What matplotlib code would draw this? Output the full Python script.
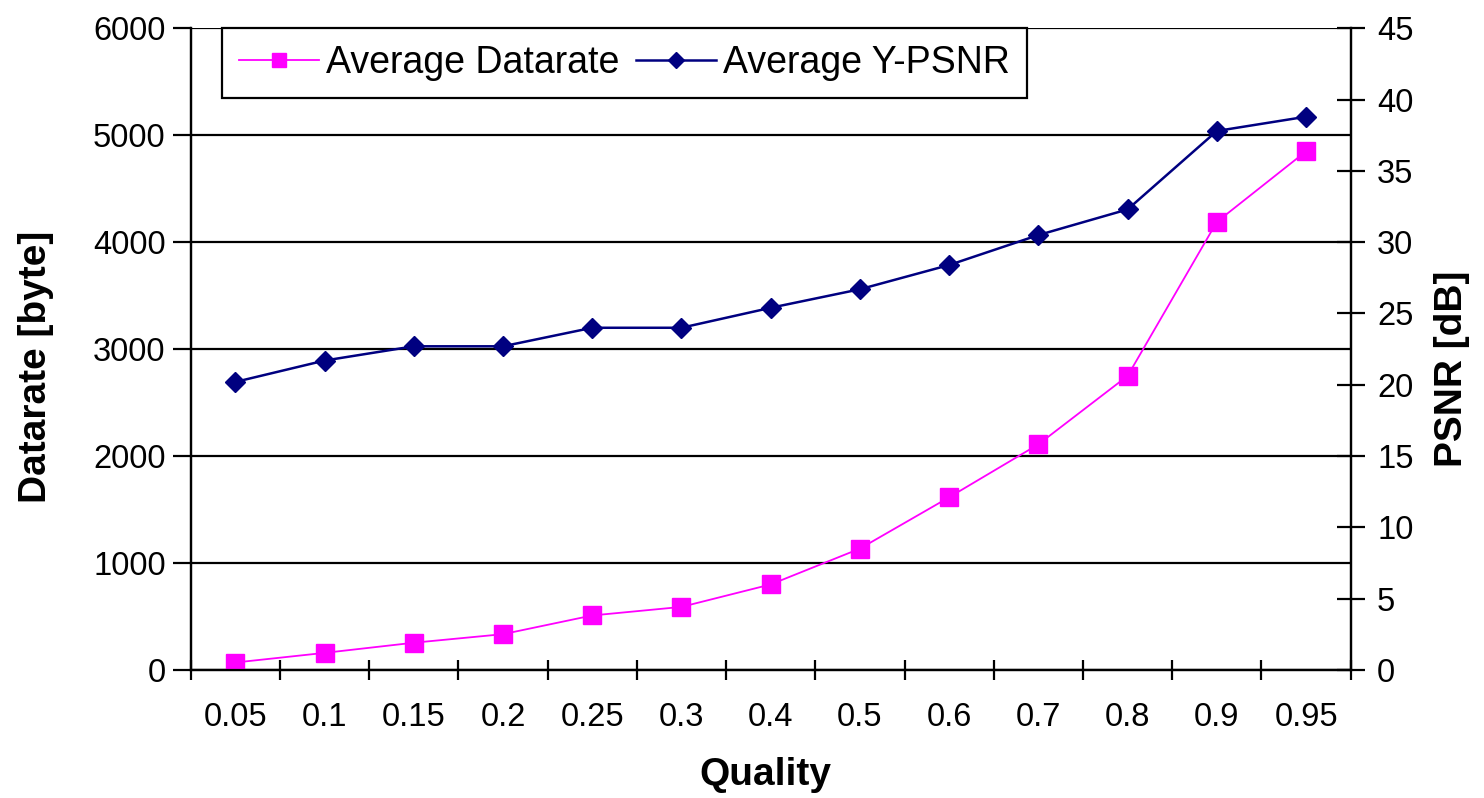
import matplotlib
matplotlib.use("Agg")
import matplotlib.pyplot as plt
from matplotlib import font_manager
import numpy as np

plt.rcParams['font.family'] = ['Liberation Sans', 'DejaVu Sans']

# fonte estreita para os numeros dos eixos, se existir
fontes = {f.name for f in font_manager.fontManager.ttflist}
if 'Liberation Sans Narrow' in fontes:
    tick_font, tick_size = 'Liberation Sans Narrow', 26
else:
    tick_font, tick_size = 'Liberation Sans', 23.5

# valores
quality = ['0.05', '0.1', '0.15', '0.2', '0.25', '0.3', '0.4',
           '0.5', '0.6', '0.7', '0.8', '0.9', '0.95']
datarate = [70, 160, 255, 335, 510, 590, 800, 1135, 1615, 2110, 2750, 4190, 4850]
psnr = [20.2, 21.7, 22.7, 22.7, 24.0, 24.0, 25.4, 26.7, 28.4, 30.5, 32.3, 37.8, 38.8]

W, H = 1484, 798
fig = plt.figure(figsize=(W / 100, H / 100), dpi=100)
# area do grafico em pixels: x 190.7..1350.7, y 28.3..670
x0, x1, ytop, ybot = 190.7, 1350.7, 28.3, 670.0
ax = fig.add_axes([x0 / W, 1 - ybot / H, (x1 - x0) / W, (ybot - ytop) / H])
ax2 = ax.twinx()

x = np.arange(len(quality))

l1, = ax.plot(x, datarate, color='#FF00FF', lw=1.3, marker='s', ms=13.5,
              mfc='#FF00FF', mec='#FF00FF', label='Average Datarate', zorder=3)
l2, = ax2.plot(x, psnr, color='#000080', lw=1.8, marker='D', ms=10.5,
               mfc='#000080', mec='#000080', label='Average Y-PSNR', zorder=3)

ax.set_xlim(-0.5, len(quality) - 0.5)
ax.set_ylim(0, 6000)
ax2.set_ylim(0, 45)

# eixo x: ticks entre as categorias, rotulos no centro
ax.set_xticks(np.arange(-0.5, len(quality), 1.0))
ax.set_xticklabels([])
ax.set_xticks(x, minor=True)
ax.set_xticklabels(quality, minor=True, fontsize=tick_size, family=[tick_font, 'DejaVu Sans'])
ax.tick_params(axis='x', which='major', direction='inout', length=15, width=1.6, color='black')
ax.tick_params(axis='x', which='minor', length=0, pad=23)

ax.set_yticks(np.arange(0, 6001, 1000))
ax.tick_params(axis='y', direction='out', length=13, width=1.6, labelsize=tick_size, pad=5)
ax2.set_yticks(np.arange(0, 46, 5))
ax2.tick_params(axis='y', direction='inout', length=20, width=1.6, labelsize=tick_size, pad=9)
for lab in ax.get_yticklabels() + ax2.get_yticklabels():
    lab.set_family([tick_font, 'DejaVu Sans'])

ax.yaxis.grid(True, color='black', lw=1.6)
ax.set_axisbelow(True)

for a in (ax, ax2):
    a.spines['top'].set_visible(False)
    for s in ('left', 'right', 'bottom'):
        a.spines[s].set_linewidth(1.6)
        a.spines[s].set_color('black')

ax.set_xlabel('Quality', fontsize=28, fontweight='bold', va='center')
ax.xaxis.set_label_coords(0.495, -0.1636)
ax.set_ylabel('Datarate [byte]', fontsize=28, fontweight='bold', va='center')
ax.yaxis.set_label_coords(-0.1334, 0.472)
ax2.set_ylabel('PSNR [dB]', fontsize=28, fontweight='bold', va='center', rotation=90)
ax2.yaxis.set_label_coords(1.0873, 0.469)

leg = ax2.legend(handles=[l1, l2], loc='upper left', ncol=2,
                 bbox_to_anchor=(222 / W, 1 - 28 / H),
                 bbox_transform=fig.transFigure, borderaxespad=0, fontsize=27,
                 borderpad=0.45, handlelength=2.13, handletextpad=0.19, columnspacing=0.45,
                 fancybox=False, framealpha=1, edgecolor='black', markerscale=0.75)
leg.get_frame().set_linewidth(1.6)

fig.savefig('out.png', dpi=100, facecolor='white')
